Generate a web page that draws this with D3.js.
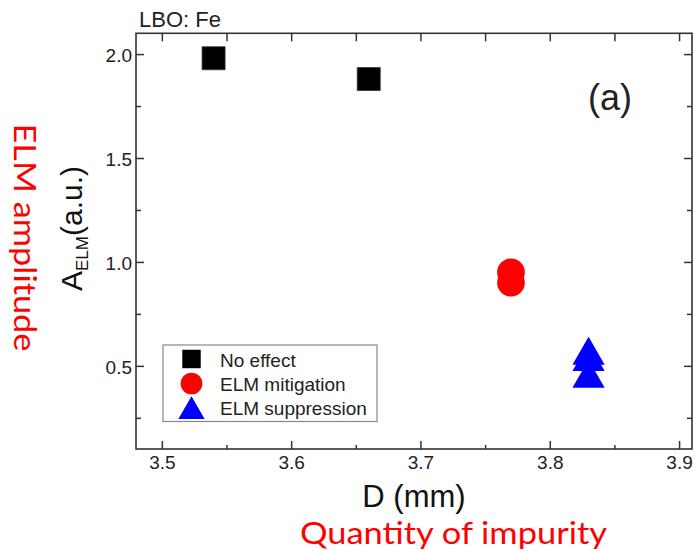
<!DOCTYPE html>
<html>
<head>
<meta charset="utf-8">
<script src="https://cdn.jsdelivr.net/npm/d3@7"></script>
<style>
  html, body { margin: 0; padding: 0; background: #fff; }
  svg { display: block; }
</style>
</head>
<body>
<svg id="chart" width="695" height="551"></svg>
<script>
// ---- data ----
const noEffectD = [3.54, 3.66];
const noEffectA = [1.98, 1.88];
const mitigationD = [3.77, 3.77];
const mitigationA = [0.95, 0.90];
const suppressionD = [3.83, 3.83, 3.83];
const suppressionA = [0.55, 0.52, 0.44];

const xTicks = [3.5, 3.6, 3.7, 3.8, 3.9];
const yTicks = [0.5, 1.0, 1.5, 2.0];
const legendLabels = ["No effect", "ELM mitigation", "ELM suppression"];

// ---- layout ----
const frame = { left: 136, right: 692, top: 33.3, bottom: 449 };
const chartFont = "'Liberation Sans', Arial, sans-serif";
const noteFont = "Lato, 'Open Sans', sans-serif";

const svg = d3.select("#chart");

const x = d3.scaleLinear().domain([3.48, 3.91]).range([frame.left, frame.right]);
const y = d3.scaleLinear().domain([0.1, 2.1]).range([frame.bottom, frame.top]);

const xMinor = d3.range(3.5, 3.91, 0.05).map(v => +v.toFixed(2));
const yMinor = d3.range(0.25, 2.1, 0.25).map(v => +v.toFixed(2)).filter(v => !yTicks.includes(v));

const axisColor = "#333";

function styleAxis(g) {
  g.select(".domain").remove();
  g.selectAll(".tick line").attr("stroke", axisColor).attr("stroke-width", 1.5);
  g.selectAll(".tick text")
    .attr("fill", "#222")
    .style("font-family", chartFont)
    .style("font-size", "19px");
}

// bottom axis: labelled majors + minors, ticks pointing inward
svg.append("g")
  .attr("transform", `translate(0,${frame.bottom})`)
  .call(d3.axisBottom(x).tickValues(xTicks).tickSize(-8).tickPadding(7).tickFormat(d3.format(".1f")))
  .call(styleAxis);
svg.append("g")
  .attr("transform", `translate(0,${frame.bottom})`)
  .call(d3.axisBottom(x).tickValues(xMinor.filter(v => !xTicks.includes(v))).tickSize(-4).tickFormat(""))
  .call(styleAxis);

// top axis: unlabelled ticks at every 0.05
svg.append("g")
  .attr("transform", `translate(0,${frame.top})`)
  .call(d3.axisTop(x).tickValues(xMinor).tickSize(-8).tickFormat(""))
  .call(styleAxis);

// left axis
svg.append("g")
  .attr("transform", `translate(${frame.left},0)`)
  .call(d3.axisLeft(y).tickValues(yTicks).tickSize(-8).tickPadding(4).tickFormat(d3.format(".1f")))
  .call(styleAxis)
  .call(g => g.selectAll(".tick text").attr("dy", "0.38em"));
svg.append("g")
  .attr("transform", `translate(${frame.left},0)`)
  .call(d3.axisLeft(y).tickValues(yMinor).tickSize(-5).tickFormat(""))
  .call(styleAxis);

// right axis
svg.append("g")
  .attr("transform", `translate(${frame.right},0)`)
  .call(d3.axisRight(y).tickValues(yTicks).tickSize(-8).tickFormat(""))
  .call(styleAxis);
svg.append("g")
  .attr("transform", `translate(${frame.right},0)`)
  .call(d3.axisRight(y).tickValues(yMinor).tickSize(-5).tickFormat(""))
  .call(styleAxis);

// frame
svg.append("rect")
  .attr("x", x.range()[0]).attr("y", y.range()[1])
  .attr("width", x.range()[1] - x.range()[0])
  .attr("height", y.range()[0] - y.range()[1])
  .attr("fill", "none").attr("stroke", axisColor).attr("stroke-width", 1.6);

// ---- markers ----
const series = [
  { d: noEffectD, a: noEffectA, type: d3.symbolSquare, size: 529, fill: "#000", stroke: "#333" },
  { d: mitigationD, a: mitigationA, type: d3.symbolCircle, size: 602, fill: "#ff0000", stroke: "none" },
  { d: suppressionD, a: suppressionA, type: d3.symbolTriangle, size: 450, fill: "#0000ff", stroke: "none" }
];

series.forEach(s => {
  const sym = d3.symbol().type(s.type).size(s.size);
  svg.append("g").selectAll("path")
    .data(s.d.map((d, i) => [d, s.a[i]]))
    .join("path")
    .attr("transform", p => `translate(${x(p[0])},${y(p[1])})`)
    .attr("d", sym)
    .attr("fill", s.fill)
    .attr("stroke", s.stroke)
    .attr("stroke-width", 0.8);
});

// ---- legend ----
const legend = svg.append("g").attr("transform", "translate(163,345)");
legend.append("rect")
  .attr("x", 0).attr("y", 0).attr("width", 214).attr("height", 76.5)
  .attr("fill", "#fff").attr("stroke", "#888").attr("stroke-width", 1.2);

const legendSymbols = [
  { type: d3.symbolSquare, size: 340, fill: "#000", cy: 14 },
  { type: d3.symbolCircle, size: 370, fill: "#ff0000", cy: 38.5 },
  { type: d3.symbolTriangle, size: 300, fill: "#0000ff", cy: 66.5 }
];
const legendBaselines = [21.5, 45.5, 69.5];

legendSymbols.forEach((s, i) => {
  legend.append("path")
    .attr("transform", `translate(28.5,${s.cy})`)
    .attr("d", d3.symbol().type(s.type).size(s.size))
    .attr("fill", s.fill);
  legend.append("text")
    .attr("x", 57).attr("y", legendBaselines[i])
    .style("font-family", chartFont).style("font-size", "19px")
    .attr("fill", "#222")
    .text(legendLabels[i]);
});

// ---- texts ----
svg.append("text")
  .attr("x", 139).attr("y", 27)
  .style("font-family", chartFont).style("font-size", "22px")
  .attr("fill", "#222")
  .text("LBO: Fe");

svg.append("text")
  .attr("x", 588).attr("y", 110)
  .style("font-family", chartFont).style("font-size", "36px")
  .attr("fill", "#222")
  .text("(a)");

svg.append("text")
  .attr("x", (frame.left + frame.right) / 2).attr("y", 507)
  .attr("text-anchor", "middle")
  .style("font-family", chartFont).style("font-size", "31px")
  .attr("fill", "#111")
  .text("D (mm)");

// y-axis title with subscript
const yTitle = svg.append("text")
  .attr("transform", "translate(82,291) rotate(-90)")
  .style("font-family", chartFont).style("font-size", "30px")
  .attr("fill", "#111");
yTitle.append("tspan").text("A");
yTitle.append("tspan").attr("dy", 6).style("font-size", "17px").text("ELM");
yTitle.append("tspan").attr("dy", -6).text("(a.u.)");

// red annotations
svg.append("text")
  .attr("x", 453.5).attr("y", 544)
  .attr("text-anchor", "middle")
  .attr("textLength", 307).attr("lengthAdjust", "spacingAndGlyphs")
  .style("font-family", noteFont).style("font-size", "31px")
  .attr("fill", "#ff0000")
  .text("Quantity of impurity");

svg.append("text")
  .attr("transform", "translate(14,237.5) rotate(90)")
  .attr("text-anchor", "middle")
  .attr("textLength", 228).attr("lengthAdjust", "spacingAndGlyphs")
  .style("font-family", noteFont).style("font-size", "30px")
  .attr("fill", "#ff0000")
  .text("ELM amplitude");
</script>
</body>
</html>
